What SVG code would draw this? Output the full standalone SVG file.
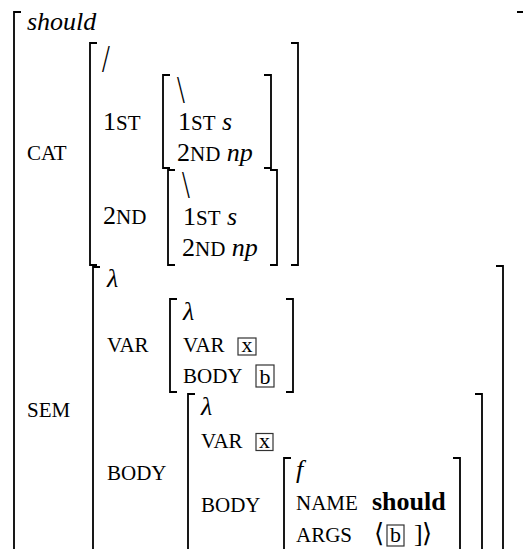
<svg xmlns="http://www.w3.org/2000/svg" width="523" height="549" viewBox="0 0 523 549">
<style>
text{font-family:"Liberation Serif","DejaVu Serif",serif;font-size:26px;fill:#000}
.sc{font-size:21px}
.it{font-style:italic}
.bd{font-weight:bold}
.bx{font-size:22px}
.dv{font-family:"DejaVu Serif",serif}
.br{fill:none;stroke:#000;stroke-width:1.8}
.box{fill:none;stroke:#333;stroke-width:1.2}
</style>
<rect width="523" height="549" fill="#fff"/>
<g id="outer">
<path class="br" d="M21,12H14V560"/>
<path class="br" d="M517,12H525V560"/>
<text x="27" y="30" class="it">should</text>
<text x="27" y="160" class="sc">CAT</text>
<text x="27" y="417" class="sc">SEM</text>
</g>
<g id="cat">
<path class="br" d="M97,43H90V265H97"/>
<path class="br" d="M291,43H298V265H291"/>
<text transform="translate(102,72) scale(1,1.4)" style="font-size:28px">/</text>
<text x="103" y="130">1<tspan class="sc">ST</tspan></text>
<text x="103" y="224">2<tspan class="sc">ND</tspan></text>
</g>
<g id="cat-1st">
<path class="br" d="M170,75H163V168H170"/>
<path class="br" d="M264,75H271V168H264"/>
<text transform="translate(177,103) scale(1,1.4)" style="font-size:28px">\</text>
<text x="178" y="130">1<tspan class="sc">ST</tspan> <tspan class="it">s</tspan></text>
<text x="177" y="161">2<tspan class="sc">ND</tspan> <tspan class="it">np</tspan></text>
</g>
<g id="cat-2nd">
<path class="br" d="M175,170H168V265H175"/>
<path class="br" d="M270,170H277V265H270"/>
<text transform="translate(182,198) scale(1,1.4)" style="font-size:28px">\</text>
<text x="183" y="225">1<tspan class="sc">ST</tspan> <tspan class="it">s</tspan></text>
<text x="182" y="256">2<tspan class="sc">ND</tspan> <tspan class="it">np</tspan></text>
</g>
<g id="sem">
<path class="br" d="M100,267H93V560"/>
<path class="br" d="M496,266H503V560"/>
<text x="107" y="287" class="it">λ</text>
<text x="107" y="352" class="sc">VAR</text>
<text x="107" y="480" class="sc">BODY</text>
</g>
<g id="sem-var">
<path class="br" d="M177,299H170V392H177"/>
<path class="br" d="M286,299H293V392H286"/>
<text x="183" y="320" class="it">λ</text>
<text x="183" y="352" class="sc">VAR</text>
<rect class="box" x="238" y="338" width="18" height="17"/>
<text x="247" y="351.5" class="bx" text-anchor="middle">x</text>
<text x="183" y="383" class="sc">BODY</text>
<rect class="box" x="256" y="365" width="18" height="22"/>
<text x="265" y="383.5" class="bx" text-anchor="middle">b</text>
</g>
<g id="sem-body">
<path class="br" d="M195,394H188V560"/>
<path class="br" d="M475,394H482V560"/>
<text x="201" y="415" class="it">λ</text>
<text x="201" y="448" class="sc">VAR</text>
<rect class="box" x="256" y="433.5" width="17" height="17"/>
<text x="264.5" y="447.5" class="bx" text-anchor="middle">x</text>
<text x="201" y="512" class="sc">BODY</text>
</g>
<g id="sem-body-body">
<path class="br" d="M291,458H284V560"/>
<path class="br" d="M453,458H460V560"/>
<text x="296" y="478" class="it">f</text>
<text x="296" y="510" class="sc">NAME</text>
<text x="372" y="510" class="bd">should</text>
<text x="296" y="542" class="sc">ARGS</text>
<text x="374" y="542" class="dv">⟨</text>
<rect class="box" x="387" y="525" width="17" height="21"/>
<text x="395.5" y="542" class="bx" text-anchor="middle">b</text>
<text x="414" y="542">]</text>
<text x="422" y="542" class="dv">⟩</text>
</g>
</svg>
